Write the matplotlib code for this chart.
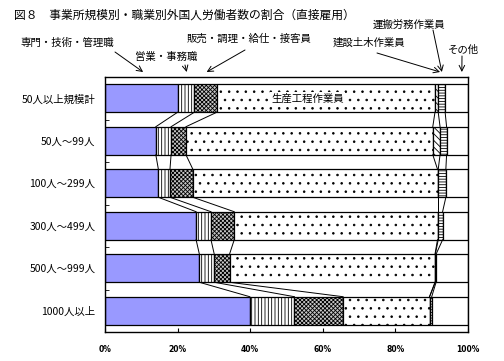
import numpy as np
import matplotlib.pyplot as plt

plt.rcParams['font.family'] = ['Noto Sans CJK JP', 'DejaVu Sans']
plt.rcParams['hatch.linewidth'] = 0.6

# 事業所規模（上から順に）
sizes = ["50人以上規模計", "50人～99人", "100人～299人",
         "300人～499人", "500人～999人", "1000人以上"]

# 職業別割合 (%)
senmon = [20.0, 14.0, 14.7, 25.1, 26.0, 39.9]   # 専門・技術・管理職
eigyo = [4.6, 4.2, 3.2, 4.1, 4.1, 12.3]         # 営業・事務職
hanbai = [6.2, 4.1, 6.3, 6.4, 4.2, 13.4]        # 販売・調理・給仕・接客員
seisan = [60.1, 68.0, 67.4, 56.0, 56.6, 23.8]   # 生産工程作業員
kensetsu = [0.9, 2.0, 0.2, 0.2, 0.1, 0.0]       # 建設土木作業員
unpan = [1.9, 1.8, 2.1, 1.2, 0.2, 0.6]          # 運搬労務作業員
sonota = [6.3, 5.9, 6.1, 7.0, 8.8, 10.0]        # その他

series = [senmon, eigyo, hanbai, seisan, kensetsu, unpan, sonota]
faces = ['#9999ff', 'white', '#c8c8c8', 'white', 'white', 'white', 'white']
hatches = [None, '|||||', 'xxxxxxxx', '..', '\\\\\\\\\\', '------', None]

W, H = 504, 361
fig = plt.figure(figsize=(W / 100, H / 100), dpi=100)
ax = fig.add_axes([105 / W, 1 - 332 / H, 363 / W, 255 / H])

y = np.arange(len(sizes))
bh = 0.66
left = np.zeros(len(sizes))
for vals, fc, ht in zip(series, faces, hatches):
    ax.barh(y, vals, left=left, height=bh, color=fc, edgecolor='black',
            hatch=ht, linewidth=0.9)
    left = left + np.array(vals)

# 系列線（各棒の区切りを結ぶ）
cum = np.cumsum(np.array(series), axis=0)[:-1]
for row in cum:
    for i in range(len(sizes) - 1):
        ax.plot([row[i], row[i + 1]], [i + bh / 2, i + 1 - bh / 2],
                color='black', lw=0.7)

ax.set_xlim(0, 100)
ax.set_ylim(len(sizes) - 0.5, -0.5)
ax.set_xticks(np.arange(0, 101, 20))
ax.set_xticklabels([f"{v}%" for v in range(0, 101, 20)],
                   fontsize=5.5, fontweight='bold', family='DejaVu Sans')
ax.tick_params(axis='x', direction='in', length=3, pad=9)
ax.set_yticks(y)
ax.set_yticklabels(sizes, fontsize=7.5)
ax.tick_params(axis='y', which='major', length=0, pad=7)
ax.set_yticks(np.arange(0.5, len(sizes) - 1, 1), minor=True)
ax.tick_params(axis='y', which='minor', direction='in', length=3)
for s in ax.spines.values():
    s.set_linewidth(1.0)

fig.text(14 / W, 1 - 15 / H,
         "図８　事業所規模別・職業別外国人労働者数の割合（直接雇用）",
         fontsize=8.5, va='center', ha='left')

ax.text(senmon[0] + eigyo[0] + hanbai[0] + seisan[0] / 2 - 5, 0, "生産工程作業員",
        fontsize=7.5, ha='center', va='center',
        bbox=dict(facecolor='white', edgecolor='none', pad=1))


def fp(px, py):
    return (px / W, 1 - py / H)


top = -0.5 - 5 / 42.5
notes = [
    ("専門・技術・管理職", 10.5, (20, 43), (115, 52), 'left'),
    ("営業・事務職", 22.5, (135, 57), (185, 65), 'left'),
    ("販売・調理・給仕・接客員", 28.0, (187, 39), (245, 50), 'left'),
    ("建設土木作業員", 92.3, (333, 43), (377, 53), 'left'),
    ("運搬労務作業員", 92.8, (373, 25), (433, 30), 'left'),
    ("その他", 98.3, (448, 50), (462, 56), 'left'),
]
for label, tx, txt_pos, tail, ha in notes:
    fig.text(*fp(*txt_pos), label, fontsize=7.5, ha=ha, va='center')
    ax.annotate("", xy=(tx, top), xycoords='data',
                xytext=fp(*tail), textcoords='figure fraction',
                arrowprops=dict(arrowstyle='->', lw=0.7, color='black',
                                shrinkA=0, shrinkB=0),
                annotation_clip=False)

fig.savefig("out.png", dpi=100)
